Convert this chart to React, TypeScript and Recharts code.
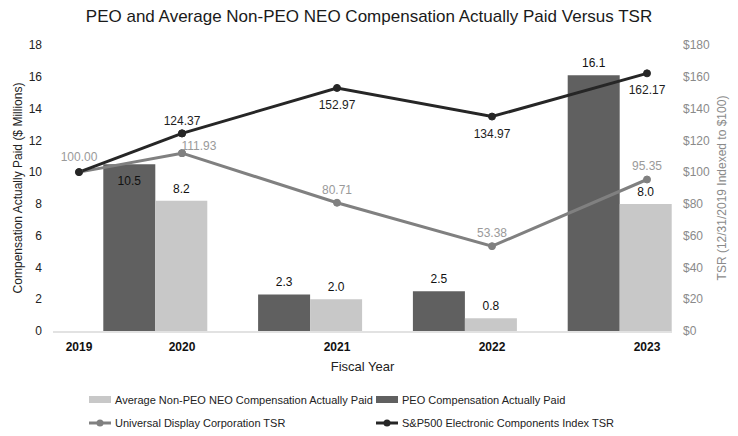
import React from "react";
import { Bar, ComposedChart, Label, LabelList, Line, XAxis, YAxis } from "recharts";

const years = ["2019", "2020", "2021", "2022", "2023"];
const peoCap = [null, 10.5, 2.3, 2.5, 16.1];
const nonPeoCap = [null, 8.2, 2.0, 0.8, 8.0];
const udcTsr = [100.0, 111.93, 80.71, 53.38, 95.35];
const spTsr = [100.0, 124.37, 152.97, 134.97, 162.17];
const compTicks = [0, 2, 4, 6, 8, 10, 12, 14, 16, 18];
const tsrTicks = [0, 20, 40, 60, 80, 100, 120, 140, 160, 180];

const PEO_COLOR = "#606060";
const NON_PEO_COLOR = "#c8c8c8";
const UDC_COLOR = "#808080";
const SP_COLOR = "#262626";

// the first year sits on its own (narrower) step, so lines are split in a head and a tail
const data = years.map((year, i) => ({
  year,
  peo: peoCap[i],
  nonPeo: nonPeoCap[i],
  udcHead: i <= 1 ? udcTsr[i] : null,
  udcTail: i >= 1 ? udcTsr[i] : null,
  spHead: i <= 1 ? spTsr[i] : null,
  spTail: i >= 1 ? spTsr[i] : null,
}));

const font = "'Liberation Sans', Arial, sans-serif";

const peoLabel = (props: any) => {
  const { x, y, width, value } = props;
  if (value == null) return null;
  // the 2020 value sits inside its bar, under the TSR lines
  const inside = value === peoCap[1];
  return (
    <text x={x + width / 2} y={inside ? y + 21 : y - 8} textAnchor="middle" fontSize={12} fill="#111">
      {Number(value).toFixed(1)}
    </text>
  );
};

const nonPeoLabel = (props: any) => {
  const { x, y, width, value } = props;
  if (value == null) return null;
  return (
    <text x={x + width / 2} y={y - 8} textAnchor="middle" fontSize={12} fill="#111">
      {Number(value).toFixed(1)}
    </text>
  );
};

const udcHeadLabel = (props: any) => {
  const { x, y, value, index } = props;
  if (value == null || index !== 0) return null;
  return (
    <text x={x} y={y - 11} textAnchor="middle" fontSize={12} fill="#9a9a9a">
      {Number(value).toFixed(2)}
    </text>
  );
};

const udcTailLabel = (props: any) => {
  const { x, y, value, index } = props;
  if (value == null) return null;
  const shift = index === 1 ? 17 : 0;
  return (
    <text x={x + shift} y={index === 1 ? y - 3 : y - 9} textAnchor="middle" fontSize={12} fill="#9a9a9a">
      {Number(value).toFixed(2)}
    </text>
  );
};

const spTailLabel = (props: any) => {
  const { x, y, value, index } = props;
  if (value == null) return null;
  const above = index === 1;
  return (
    <text x={x} y={above ? y - 8 : y + 21} textAnchor="middle" fontSize={12} fill="#1e1e1e">
      {Number(value).toFixed(2)}
    </text>
  );
};

const legendItems = [
  { name: "Average Non-PEO NEO Compensation Actually Paid", color: NON_PEO_COLOR, kind: "bar" },
  { name: "PEO Compensation Actually Paid", color: PEO_COLOR, kind: "bar" },
  { name: "Universal Display Corporation TSR", color: UDC_COLOR, kind: "line" },
  { name: "S&P500 Electronic Components Index TSR", color: SP_COLOR, kind: "line" },
];

function LegendBox() {
  return (
    <div
      style={{
        position: "absolute",
        left: 89,
        top: 392,
        display: "grid",
        gridTemplateColumns: "287px 300px",
        rowGap: 7,
        fontSize: 11,
        color: "#222",
      }}
    >
      {legendItems.map((it) => (
        <div key={it.name} style={{ display: "flex", alignItems: "center", height: 16, whiteSpace: "nowrap" }}>
          <svg width={24} height={12} style={{ marginRight: 2 }}>
            {it.kind === "bar" ? (
              <rect x={0} y={2} width={22} height={7} fill={it.color} />
            ) : (
              <g>
                <line x1={0} y1={6} x2={22} y2={6} stroke={it.color} strokeWidth={3} />
                <circle cx={11} cy={6} r={3.5} fill={it.color} />
              </g>
            )}
          </svg>
          <span>{it.name}</span>
        </div>
      ))}
    </div>
  );
}

export default function App() {
  return (
    <div
      style={{
        position: "absolute",
        left: 0,
        top: 0,
        width: 738,
        height: 436,
        background: "#fff",
        fontFamily: font,
      }}
    >
      <div
        style={{
          position: "absolute",
          left: 0,
          top: 7,
          width: 738,
          textAlign: "center",
          fontSize: 17,
          color: "#1a1a1a",
        }}
      >
        PEO and Average Non-PEO NEO Compensation Actually Paid Versus TSR
      </div>
      <ComposedChart
        width={738}
        height={436}
        data={data}
        margin={{ top: 45, right: 0, bottom: 103, left: 8 }}
        barGap={0}
      >
        <XAxis xAxisId="bars" dataKey="year" hide height={0} padding={{ left: -129.5, right: -25.5 }} />
        <XAxis
          xAxisId="tail"
          dataKey="year"
          height={1}
          interval={0}
          axisLine={{ stroke: "#d9d9d9", strokeWidth: 1.5 }}
          tickLine={false}
          tickMargin={4}
          padding={{ left: -103.5, right: -52.5 }}
          tickFormatter={(v: string) => (v === years[0] ? "" : v)}
          tick={{ fontSize: 12, fontWeight: 700, fill: "#111" }}
        >
          <Label value="Fiscal Year" position="bottom" offset={29} style={{ fontSize: 13, fill: "#222" }} />
        </XAxis>
        <XAxis
          xAxisId="head"
          dataKey="year"
          height={1}
          interval={0}
          axisLine={false}
          tickLine={false}
          tickMargin={5}
          padding={{ left: -25.5, right: 129.5 }}
          tickFormatter={(v: string) => (v === years[0] ? v : "")}
          tick={{ fontSize: 12, fontWeight: 700, fill: "#111" }}
        />
        <YAxis
          yAxisId="comp"
          width={45}
          domain={[0, 18]}
          ticks={compTicks}
          axisLine={false}
          tickLine={false}
          tickMargin={5}
          tick={{ fontSize: 12, fill: "#222" }}
        >
          <Label
            value="Compensation Actually Paid ($ Millions)"
            angle={-90}
            position="insideLeft"
            offset={10}
            style={{ textAnchor: "middle", fontSize: 12, fill: "#222" }}
          />
        </YAxis>
        <YAxis
          yAxisId="tsr"
          orientation="right"
          width={66}
          domain={[0, 180]}
          ticks={tsrTicks}
          axisLine={false}
          tickLine={false}
          tickMargin={5}
          tickFormatter={(v: number) => `$${v}`}
          tick={{ fontSize: 12, fill: "#8a8a8a" }}
        >
          <Label
            value="TSR (12/31/2019 Indexed to $100)"
            angle={-90}
            position="insideRight"
            offset={16}
            style={{ textAnchor: "middle", fontSize: 12, fill: "#8a8a8a" }}
          />
        </YAxis>

        <Bar xAxisId="bars" yAxisId="comp" dataKey="peo" name="PEO Compensation Actually Paid" fill={PEO_COLOR} barSize={52} isAnimationActive={false}>
          <LabelList dataKey="peo" content={peoLabel} />
        </Bar>
        <Bar xAxisId="bars" yAxisId="comp" dataKey="nonPeo" name="Average Non-PEO NEO Compensation Actually Paid" fill={NON_PEO_COLOR} barSize={52} isAnimationActive={false}>
          <LabelList dataKey="nonPeo" content={nonPeoLabel} />
        </Bar>

        <Line xAxisId="head" yAxisId="tsr" dataKey="udcHead" stroke={UDC_COLOR} strokeWidth={3} dot={{ r: 3.5, fill: UDC_COLOR, stroke: UDC_COLOR, strokeWidth: 1 }} isAnimationActive={false}>
          <LabelList dataKey="udcHead" content={udcHeadLabel} />
        </Line>
        <Line xAxisId="tail" yAxisId="tsr" dataKey="udcTail" stroke={UDC_COLOR} strokeWidth={3} dot={{ r: 3.5, fill: UDC_COLOR, stroke: UDC_COLOR, strokeWidth: 1 }} isAnimationActive={false}>
          <LabelList dataKey="udcTail" content={udcTailLabel} />
        </Line>
        <Line xAxisId="head" yAxisId="tsr" dataKey="spHead" stroke={SP_COLOR} strokeWidth={3} dot={{ r: 3.5, fill: SP_COLOR, stroke: SP_COLOR, strokeWidth: 1 }} isAnimationActive={false} />
        <Line xAxisId="tail" yAxisId="tsr" dataKey="spTail" stroke={SP_COLOR} strokeWidth={3} dot={{ r: 3.5, fill: SP_COLOR, stroke: SP_COLOR, strokeWidth: 1 }} isAnimationActive={false}>
          <LabelList dataKey="spTail" content={spTailLabel} />
        </Line>
      </ComposedChart>
      <LegendBox />
    </div>
  );
}
